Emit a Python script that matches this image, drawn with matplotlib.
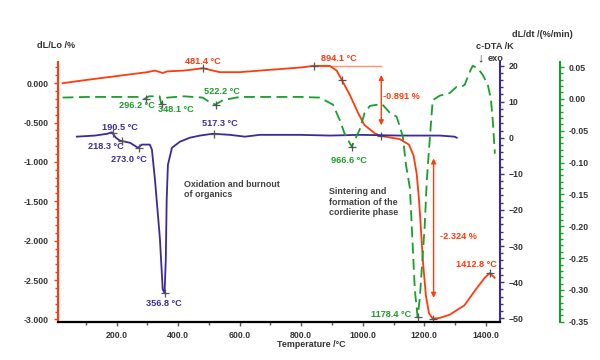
import matplotlib.pyplot as plt
from matplotlib.ticker import MultipleLocator, FormatStrFormatter

plt.rcParams['font.family'] = ['Liberation Sans', 'DejaVu Sans']

# dL/Lo /%  (orange)
T_dl = [25, 100, 200, 300, 325, 350, 365, 420, 481, 535, 600, 700, 800, 840, 893, 915, 932,
        958, 985, 1005, 1040, 1060, 1120, 1150, 1165, 1175, 1182, 1188, 1195, 1205, 1215,
        1227, 1250, 1282, 1330, 1365, 1396, 1413, 1428]
dl = [0.0, 0.04, 0.09, 0.14, 0.16, 0.13, 0.15, 0.16, 0.19, 0.14, 0.14, 0.17, 0.20, 0.22, 0.22,
      0.16, 0.04, -0.15, -0.38, -0.53, -0.64, -0.67, -0.71, -0.78, -0.92, -1.15, -1.45, -1.80,
      -2.25, -2.70, -2.92, -2.99, -2.98, -2.94, -2.82, -2.63, -2.47, -2.41, -2.47]

# dL/dt /(%/min)  (green, dashed)
T_dt = [25, 100, 200, 276, 292, 305, 340, 345, 350, 365, 420, 480, 505, 522, 545, 600, 700,
        800, 860, 903, 925, 942, 964, 990, 1006, 1023, 1062, 1088, 1110, 1130, 1140, 1153, 1169,
        1178, 1185, 1201, 1208, 1218, 1227, 1250, 1282, 1305, 1320, 1331, 1347, 1357, 1373,
        1390, 1406, 1416, 1422, 1429]
dt = [0.002, 0.003, 0.003, 0.003, 0.0, 0.004, 0.004, -0.008, -0.005, 0.002, 0.004, 0.002,
      -0.006, -0.009, -0.002, 0.003, 0.003, 0.003, 0.002, -0.009, -0.033, -0.056, -0.075,
      -0.048, -0.022, -0.011, -0.008, -0.022, -0.028, -0.059, -0.103, -0.14, -0.30, -0.342,
      -0.314, -0.20, -0.127, -0.06, -0.002, 0.005, 0.009, 0.019, 0.019, 0.022, 0.042, 0.052,
      0.048, 0.0375, 0.022, 0.0, -0.033, -0.086]

# c-DTA /K  (purple)
T_dta = [71, 130, 170, 185, 198, 211, 244, 270, 282, 308, 315, 325, 341, 350, 356, 360, 363,
         367, 380, 406, 438, 471, 513, 568, 617, 666, 795, 893, 990, 1120, 1250, 1298, 1305]
dta = [0.3, 0.6, 1.1, 1.5, 0.0, -0.8, -1.4, -2.8, -1.9, -1.9, -3.3, -11.7, -28, -42, -43,
       -34, -17, -7.5, -2.8, -1.1, 0.0, 0.6, 1.1, 0.8, 0.3, 0.8, 0.8, 0.6, 0.8, 0.6, 0.6, 0.3, 0.0]

ORANGE = '#ff3b0a'
GREEN = '#1a9e2a'
PURPLE = '#3b2a9c'
GRAY = '#333333'

fig, ax = plt.subplots(figsize=(6, 3.6), dpi=100)
fig.subplots_adjust(left=0.0967, right=0.833, bottom=0.106, top=0.828)
ax2 = ax.twinx()
ax3 = ax.twinx()
ax3.spines['right'].set_position(('outward', 43))

ax.plot(T_dl, dl, color=ORANGE, lw=1.3, zorder=5)
ax2.plot(T_dta, dta, color=PURPLE, lw=1.3)
ax3.plot(T_dt, dt, color=GREEN, lw=1.3, dashes=(6, 3))

ax.set_xlim(10, 1445)
ax.set_ylim(-3.03, 0.27)
ax2.set_ylim(-51, 21)
ax3.set_ylim(-0.35, 0.058)

for a in (ax, ax2, ax3):
    a.spines['top'].set_visible(False)
ax.spines['right'].set_visible(False)
ax2.spines['left'].set_visible(False)
ax3.spines['left'].set_visible(False)
ax.spines['left'].set_color(ORANGE)
ax.spines['bottom'].set_color('#555555')
ax2.spines['right'].set_color(PURPLE)
ax3.spines['right'].set_color(GREEN)
for a in (ax, ax2, ax3):
    for s in a.spines.values():
        s.set_linewidth(1.5)

ax.xaxis.set_major_locator(MultipleLocator(200))
ax.xaxis.set_minor_locator(MultipleLocator(100))
ax.xaxis.set_major_formatter(FormatStrFormatter('%.1f'))
ax.yaxis.set_major_locator(MultipleLocator(0.5))
ax.yaxis.set_minor_locator(MultipleLocator(0.1))
ax.yaxis.set_major_formatter(FormatStrFormatter('%.3f'))
ax2.yaxis.set_major_locator(MultipleLocator(10))
ax2.yaxis.set_minor_locator(MultipleLocator(2))
ax3.yaxis.set_major_locator(MultipleLocator(0.05))
ax3.yaxis.set_minor_locator(MultipleLocator(0.01))
ax3.yaxis.set_major_formatter(FormatStrFormatter('%.2f'))

tk = dict(labelsize=6.3, labelcolor=GRAY, length=3, width=1)
ax.tick_params(axis='x', which='both', colors='#555555', **tk)
ax.tick_params(axis='x', which='minor', length=2)
ax.tick_params(axis='y', which='both', colors=ORANGE, **tk)
ax.tick_params(axis='y', which='minor', length=2)
ax2.tick_params(axis='y', which='both', colors=PURPLE, **tk)
ax2.tick_params(axis='y', which='minor', length=2)
ax3.tick_params(axis='y', which='both', colors=GREEN, **tk)
ax3.tick_params(axis='y', which='minor', length=2)
for a in (ax, ax2, ax3):
    for lab in a.get_xticklabels() + a.get_yticklabels():
        lab.set_fontweight('bold')
        lab.set_color(GRAY)

# crosshair markers at the marked points
mk = dict(marker='+', color='#555555', ms=6, mew=0.9, ls='none', zorder=6)
ax.plot([481, 840, 932, 1060, 1227, 1412], [0.19, 0.22, 0.04, -0.67, -2.99, -2.41], **mk)
ax3.plot([296, 348, 522, 966, 1178], [0.0, -0.008, -0.009, -0.075, -0.342], **mk)
ax2.plot([190, 218, 273, 357, 517], [1.2, -0.8, -2.8, -43, 1.1], **mk)

# step lines and arrows
ax.plot([840, 1060], [0.22, 0.22], color='#ff9070', lw=1)
arr = dict(arrowstyle='<|-|>', color=ORANGE, lw=1, mutation_scale=7)
ax.annotate('', xy=(1060, 0.14), xytext=(1060, -0.57), arrowprops=arr)
ax.annotate('', xy=(1230, -0.92), xytext=(1230, -2.76), arrowprops=arr)

lab = dict(fontsize=6.6, fontweight='bold', ha='center', va='center')
ax.text(481, 0.27, '481.4 °C', color=ORANGE, **lab)
ax.text(921, 0.31, '894.1 °C', color=ORANGE, **lab)
ax.text(1124, -0.17, '-0.891 %', color=ORANGE, **lab)
ax.text(1310, -1.95, '-2.324 %', color=ORANGE, **lab)
ax.text(1368, -2.30, '1412.8 °C', color=ORANGE, **lab)

ax3.text(266, -0.011, '296.2 °C', color=GREEN, **lab)
ax3.text(392, -0.017, '348.1 °C', color=GREEN, **lab)
ax3.text(541, 0.011, '522.2 °C', color=GREEN, **lab)
ax3.text(955, -0.097, '966.6 °C', color=GREEN, **lab)
ax3.text(1093, -0.339, '1178.4 °C', color=GREEN, **lab)

ax2.text(210, 2.8, '190.5 °C', color=PURPLE, **lab)
ax2.text(165, -2.5, '218.3 °C', color=PURPLE, **lab)
ax2.text(240, -6.1, '273.0 °C', color=PURPLE, **lab)
ax2.text(535, 3.9, '517.3 °C', color=PURPLE, **lab)
ax2.text(355, -46, '356.8 °C', color=PURPLE, **lab)

note = dict(fontsize=6.4, fontweight='bold', color='#404040', ha='left', va='top', linespacing=1.2)
ax.text(418, -1.23, 'Oxidation and burnout\nof organics', **note)
ax.text(890, -1.32, 'Sintering and\nformation of the\ncordierite phase', **note)

ax.set_xlabel('Temperature /°C', fontsize=6.4, fontweight='bold', color=GRAY)
ax.xaxis.set_label_coords(0.573, -0.068)

fig.text(0.062, 0.875, 'dL/Lo /%', fontsize=6.6, fontweight='bold', color=GRAY, ha='left', va='center')
fig.text(0.853, 0.903, 'dL/dt /(%/min)', fontsize=6.6, fontweight='bold', color=GRAY, ha='left', va='center')
fig.text(0.825, 0.872, 'c-DTA /K', fontsize=6.6, fontweight='bold', color=GRAY, ha='center', va='center')
fig.text(0.796, 0.837, '↓', fontsize=9, color=GRAY, ha='left', va='center')
fig.text(0.812, 0.837, 'exo', fontsize=6.6, fontweight='bold', color=GRAY, ha='left', va='center')

fig.savefig('out.png', dpi=100)
